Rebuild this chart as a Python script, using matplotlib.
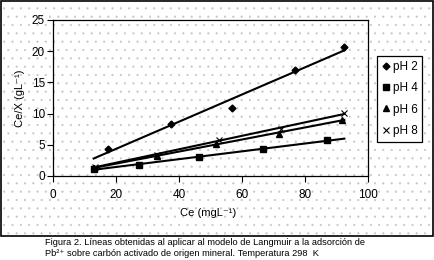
import numpy as np
import matplotlib
matplotlib.use("Agg")
from matplotlib import pyplot as plt
from matplotlib.patches import Rectangle

plt.rcParams['font.family'] = ['Liberation Sans', 'DejaVu Sans']
plt.rcParams['hatch.linewidth'] = 0.3

# Langmuir data
ce_ph2 = [17.3, 37.3, 56.8, 76.7, 92.2]
cx_ph2 = [4.3, 8.3, 10.9, 17.0, 20.6]
ce_ph4 = [12.8, 27.3, 46.2, 66.5, 86.8]
cx_ph4 = [1.1, 1.8, 3.1, 4.3, 5.7]
ce_ph6 = [12.9, 32.8, 51.8, 71.7, 91.7]
cx_ph6 = [1.3, 3.2, 5.2, 6.8, 9.0]
ce_ph8 = [13.2, 33.0, 52.6, 72.2, 92.4]
cx_ph8 = [1.5, 3.4, 5.8, 7.5, 10.1]

labels = ['pH 2', 'pH 4', 'pH 6', 'pH 8']
markers = ['D', 's', '^', 'x']
xticks = [0, 20, 40, 60, 80, 100]
yticks = [0, 5, 10, 15, 20, 25]

fig = plt.figure(figsize=(4.35, 2.6), dpi=100)
fig.patch.set_facecolor('white')

# chart area: dotted background + black frame
fig.patches.append(Rectangle((1 / 435, 1 - 236 / 260), 432 / 435, 235 / 260,
                             transform=fig.transFigure, facecolor='white',
                             edgecolor='#c4c4c4', hatch='..', lw=0, zorder=-10))
fig.patches.append(Rectangle((1 / 435, 1 - 236 / 260), 432 / 435, 235 / 260,
                             transform=fig.transFigure, facecolor='none',
                             edgecolor='black', lw=1.2, zorder=-9))

ax = fig.add_axes([53.3 / 435, 1 - 176 / 260, 315 / 435, 156 / 260])
ax.set_facecolor('none')

series = [(ce_ph2, cx_ph2), (ce_ph4, cx_ph4), (ce_ph6, cx_ph6), (ce_ph8, cx_ph8)]
all_x = np.concatenate([s[0] for s in series])
xfit = np.array([all_x.min(), all_x.max()])

handles = []
for (x, y), lab, m in zip(series, labels, markers):
    k, b = np.polyfit(x, y, 1)
    ax.plot(xfit, k * xfit + b, color='black', lw=1.5)
    if m == 'x':
        h, = ax.plot(x, y, ls='none', marker=m, color='black', ms=4, mew=0.8, label=lab)
    else:
        h, = ax.plot(x, y, ls='none', marker=m, color='black', ms=3.8 if m != 'D' else 3.5, label=lab)
    handles.append(h)

ax.set_xlim(0, 100)
ax.set_ylim(0, 25)
ax.set_xticks(xticks)
ax.set_yticks(yticks)
ax.tick_params(direction='out', length=4, width=0.8, labelsize=8.5)
ax.tick_params(axis='x', pad=5)
ax.tick_params(axis='y', pad=2)
for sp in ax.spines.values():
    sp.set_linewidth(0.9)

ax.set_xlabel('Ce (mgL⁻¹)', fontsize=8)
ax.xaxis.set_label_coords(0.49, -0.205)
ax.set_ylabel('Ce/X (gL⁻¹)', fontsize=8)
ax.yaxis.set_label_coords(-0.09, 0.5)

leg = fig.legend(handles=handles, loc='upper left',
                 bbox_to_anchor=(377.3 / 435, 1 - 56 / 260),
                 fontsize=8.5, numpoints=1, handlelength=0.6, handletextpad=0.3,
                 labelspacing=0.8, borderpad=0.4, borderaxespad=0,
                 fancybox=False, framealpha=1, edgecolor='black')
leg.get_frame().set_linewidth(0.9)

fig.text(45 / 435, 1 - 245 / 260,
         'Figura 2. Líneas obtenidas al aplicar al modelo de Langmuir a la adsorción de',
         fontsize=6.7, va='baseline', ha='left')
fig.text(45 / 435, 1 - 256 / 260,
         'Pb²⁺ sobre carbón activado de origen mineral. Temperatura 298  K',
         fontsize=6.7, va='baseline', ha='left')

fig.savefig('out.png', dpi=100)
